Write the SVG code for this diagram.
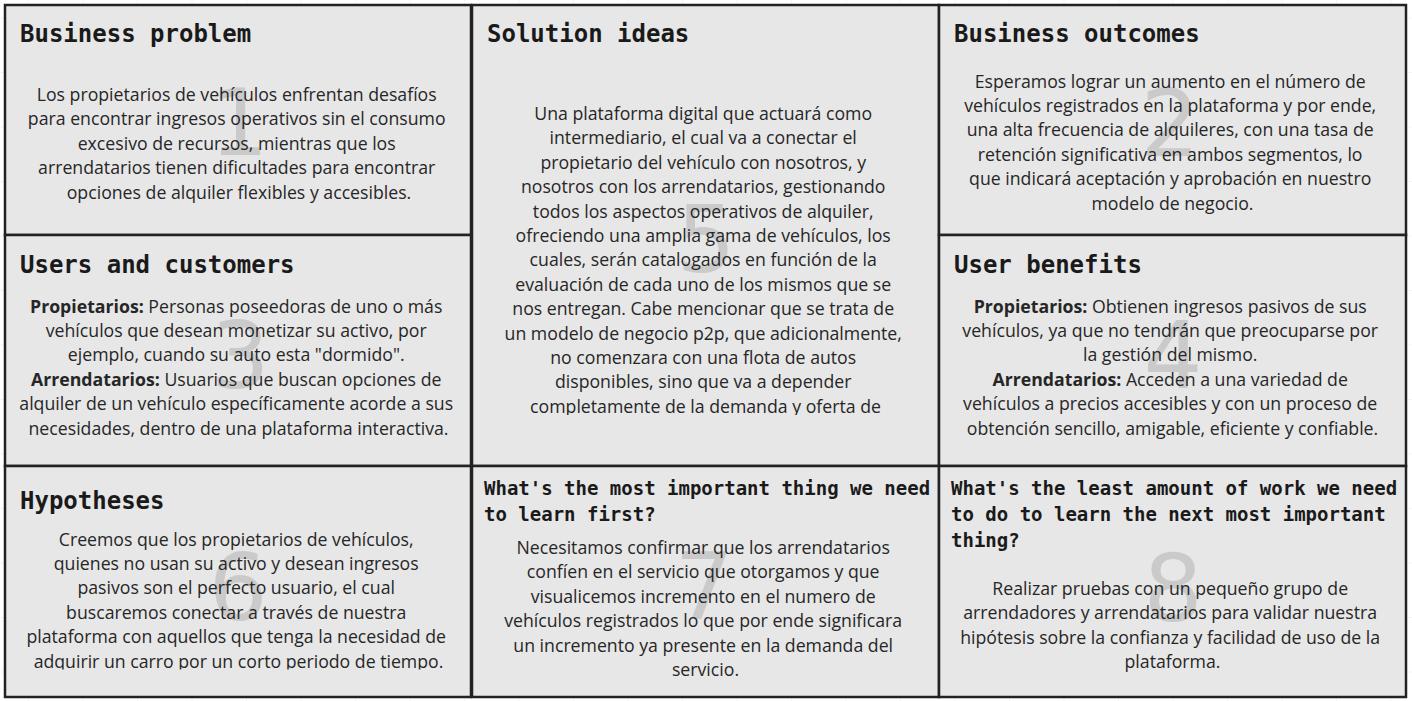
<svg xmlns="http://www.w3.org/2000/svg" width="1412" height="701" viewBox="0 0 1412 701">
<style>
.box{fill:#e6e6e6;fill-opacity:0.94;stroke:#222222;stroke-width:2.5}
.num{font-family:"DejaVu Sans",sans-serif;font-size:93px;fill:#cacaca;text-anchor:middle}
.title{font-family:"DejaVu Sans Mono","Liberation Mono",monospace;font-weight:700;font-size:24px;fill:#1a1a1a}
.qtitle{font-family:"DejaVu Sans Mono","Liberation Mono",monospace;font-weight:700;font-size:19px;fill:#1a1a1a}
.body{font-family:"Open Sans","Noto Sans",sans-serif;font-size:17.7px;fill:#262626;text-anchor:middle}
.b{font-weight:700}
</style>
<defs>
<pattern id="grid" x="28" y="17.5" width="54.5" height="54.5" patternUnits="userSpaceOnUse">
<path d="M0 0H54.5M0 0V54.5" fill="none" stroke="#ebebeb" stroke-width="1"/>
</pattern>
<clipPath id="clip5"><rect x="472" y="5" width="467" height="410"/></clipPath>
<clipPath id="clip6"><rect x="5" y="466" width="466" height="203.5"/></clipPath>
</defs>
<rect x="0" y="0" width="1412" height="701" fill="#ffffff"/>
<rect x="0" y="0" width="1412" height="701" fill="url(#grid)"/>
<g id="connectors"/>

<g id="node-business-problem">
<rect class="box" x="5" y="5" width="466" height="230"/>
<text class="num" x="239" y="155">1</text>
<text class="title" x="20" y="42">Business problem</text>
<text class="body">
<tspan x="239" y="101">Los propietarios de vehículos enfrentan desafíos</tspan>
<tspan x="239" y="125.4">para encontrar ingresos operativos sin el consumo</tspan>
<tspan x="239" y="149.8">excesivo de recursos, mientras que los</tspan>
<tspan x="239" y="174.2">arrendatarios tienen dificultades para encontrar</tspan>
<tspan x="239" y="198.6">opciones de alquiler flexibles y accesibles.</tspan>
</text>
</g>

<g id="node-solution-ideas">
<rect class="box" x="472" y="5" width="467" height="461"/>
<text class="num" x="706" y="272">5</text>
<text class="title" x="487" y="42">Solution ideas</text>
<text class="body" clip-path="url(#clip5)">
<tspan x="705.5" y="120">Una plataforma digital que actuará como</tspan>
<tspan x="705.5" y="144.4">intermediario, el cual va a conectar el</tspan>
<tspan x="705.5" y="168.8">propietario del vehículo con nosotros, y</tspan>
<tspan x="705.5" y="193.2">nosotros con los arrendatarios, gestionando</tspan>
<tspan x="705.5" y="217.6">todos los aspectos operativos de alquiler,</tspan>
<tspan x="705.5" y="242">ofreciendo una amplia gama de vehículos, los</tspan>
<tspan x="705.5" y="266.4">cuales, serán catalogados en función de la</tspan>
<tspan x="705.5" y="290.8">evaluación de cada uno de los mismos que se</tspan>
<tspan x="705.5" y="315.2">nos entregan. Cabe mencionar que se trata de</tspan>
<tspan x="705.5" y="339.6">un modelo de negocio p2p, que adicionalmente,</tspan>
<tspan x="705.5" y="364">no comenzara con una flota de autos</tspan>
<tspan x="705.5" y="388.4">disponibles, sino que va a depender</tspan>
<tspan x="705.5" y="412.8">completamente de la demanda y oferta de</tspan>
</text>
</g>

<g id="node-business-outcomes">
<rect class="box" x="939" y="5" width="467" height="230"/>
<text class="num" x="1170" y="156">2</text>
<text class="title" x="954" y="42">Business outcomes</text>
<text class="body">
<tspan x="1172.5" y="87.5">Esperamos lograr un aumento en el número de</tspan>
<tspan x="1172.5" y="111.9">vehículos registrados en la plataforma y por ende,</tspan>
<tspan x="1172.5" y="136.3">una alta frecuencia de alquileres, con una tasa de</tspan>
<tspan x="1172.5" y="160.7">retención significativa en ambos segmentos, lo</tspan>
<tspan x="1172.5" y="185.1">que indicará aceptación y aprobación en nuestro</tspan>
<tspan x="1172.5" y="209.5">modelo de negocio.</tspan>
</text>
</g>

<g id="node-users-and-customers">
<rect class="box" x="5" y="235" width="466" height="231"/>
<text class="num" x="240" y="388">3</text>
<text class="title" x="20" y="273">Users and customers</text>
<text class="body">
<tspan x="238.5" y="312.5"><tspan class="b">Propietarios:</tspan> Personas poseedoras de uno o más</tspan>
<tspan x="238.5" y="336.9">vehículos que desean monetizar su activo, por</tspan>
<tspan x="238.5" y="361.3">ejemplo, cuando su auto esta "dormido".</tspan>
<tspan x="238.5" y="385.7"><tspan class="b">Arrendatarios:</tspan> Usuarios que buscan opciones de</tspan>
<tspan x="238.5" y="410.1">alquiler de un vehículo específicamente acorde a sus</tspan>
<tspan x="238.5" y="434.5">necesidades, dentro de una plataforma interactiva.</tspan>
</text>
</g>

<g id="node-user-benefits">
<rect class="box" x="939" y="235" width="467" height="231"/>
<text class="num" x="1173" y="388">4</text>
<text class="title" x="954" y="273">User benefits</text>
<text class="body">
<tspan x="1172.5" y="312.5"><tspan class="b">Propietarios:</tspan> Obtienen ingresos pasivos de sus</tspan>
<tspan x="1172.5" y="336.9">vehículos, ya que no tendrán que preocuparse por</tspan>
<tspan x="1172.5" y="361.3">la gestión del mismo.</tspan>
<tspan x="1172.5" y="385.7"><tspan class="b">Arrendatarios:</tspan> Acceden a una variedad de</tspan>
<tspan x="1172.5" y="410.1">vehículos a precios accesibles y con un proceso de</tspan>
<tspan x="1172.5" y="434.5">obtención sencillo, amigable, eficiente y confiable.</tspan>
</text>
</g>

<g id="node-hypotheses">
<rect class="box" x="5" y="466" width="466" height="231"/>
<text class="num" x="238" y="620">6</text>
<text class="title" x="20" y="509">Hypotheses</text>
<text class="body" clip-path="url(#clip6)">
<tspan x="238.5" y="545.5">Creemos que los propietarios de vehículos,</tspan>
<tspan x="238.5" y="569.9">quienes no usan su activo y desean ingresos</tspan>
<tspan x="238.5" y="594.3">pasivos son el perfecto usuario, el cual</tspan>
<tspan x="238.5" y="618.7">buscaremos conectar a través de nuestra</tspan>
<tspan x="238.5" y="643.1">plataforma con aquellos que tenga la necesidad de</tspan>
<tspan x="238.5" y="667.5">adquirir un carro por un corto periodo de tiempo.</tspan>
</text>
</g>

<g id="node-most-important">
<rect class="box" x="472" y="466" width="467" height="231"/>
<text class="num" x="704" y="619">7</text>
<text class="qtitle">
<tspan x="484" y="495">What's the most important thing we need</tspan>
<tspan x="484" y="521">to learn first?</tspan>
</text>
<text class="body">
<tspan x="705.5" y="554">Necesitamos confirmar que los arrendatarios</tspan>
<tspan x="705.5" y="578.4">confíen en el servicio que otorgamos y que</tspan>
<tspan x="705.5" y="602.8">visualicemos incremento en el numero de</tspan>
<tspan x="705.5" y="627.2">vehículos registrados lo que por ende significara</tspan>
<tspan x="705.5" y="651.6">un incremento ya presente en la demanda del</tspan>
<tspan x="705.5" y="676">servicio.</tspan>
</text>
</g>

<g id="node-least-work">
<rect class="box" x="939" y="466" width="467" height="231"/>
<text class="num" x="1173" y="621">8</text>
<text class="qtitle">
<tspan x="951" y="495">What's the least amount of work we need</tspan>
<tspan x="951" y="521">to do to learn the next most important</tspan>
<tspan x="951" y="547">thing?</tspan>
</text>
<text class="body">
<tspan x="1172.5" y="595">Realizar pruebas con un pequeño grupo de</tspan>
<tspan x="1172.5" y="619.4">arrendadores y arrendatarios para validar nuestra</tspan>
<tspan x="1172.5" y="643.8">hipótesis sobre la confianza y facilidad de uso de la</tspan>
<tspan x="1172.5" y="668.2">plataforma.</tspan>
</text>
</g>
</svg>
